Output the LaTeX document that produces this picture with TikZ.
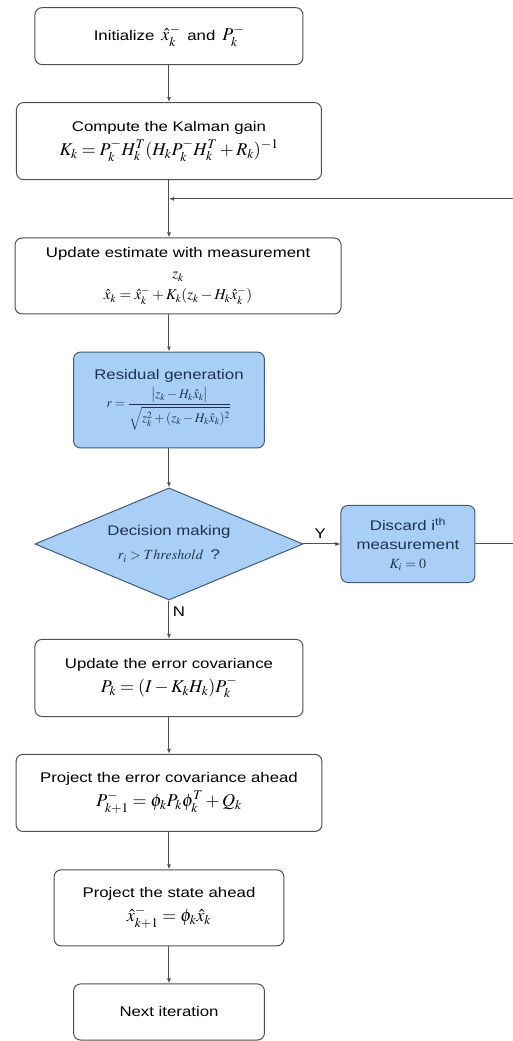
\documentclass[tikz,border=0pt]{standalone}
\usepackage{amsmath,amssymb}
\usepackage{mathptmx}
\usepackage{fontspec}
\setmainfont{Liberation Sans}[FakeStretch=1.2]
\usetikzlibrary{arrows.meta,positioning,shapes.geometric}
\definecolor{boxline}{HTML}{505050}
\definecolor{bluefill}{HTML}{A9CFF7}
\definecolor{blueline}{HTML}{3F5C7A}
\definecolor{bluetext}{HTML}{1E3250}
\newcommand{\bigeq}[1]{{\fontsize{18}{20}\selectfont$#1$}}

\begin{document}
\begin{tikzpicture}[
  font=\fontsize{14}{24}\selectfont,
  box/.style={draw=boxline, line width=1pt, rounded corners=7pt, align=center, inner sep=3pt},
  bluebox/.style={box, draw=blueline, fill=bluefill, text=bluetext},
  decision/.style={draw=blueline, fill=bluefill, text=bluetext, line width=1pt, diamond, aspect=2.4, align=center, inner sep=1pt},
  flow/.style={-{Latex[length=5pt,width=4pt]}, draw=boxline, line width=1pt}
]
\useasboundingbox (-5.94,0) rectangle (12.09,-36.59);

\node[box, minimum width=9.42cm, minimum height=2.00cm] (init) at (0,-1.27)
  {Initialize\enspace \bigeq{\hat{x}_k^-}\enspace and\enspace \bigeq{P_k^-}};
\node[box, minimum width=10.72cm, minimum height=2.71cm] (gain) at (0,-4.96)
  {Compute the Kalman gain\\
   \bigeq{K_k = P_k^-H_k^T(H_kP_k^-H_k^T + R_k)^{-1}}};
\node[box, minimum width=11.46cm, minimum height=2.67cm, font=\fontsize{14}{21}\selectfont] (update) at (0.32,-9.70)
  {Update estimate with measurement\\ {\fontsize{15}{17}\selectfont$z_k$}\\
   {\fontsize{15}{17}\selectfont$\hat{x}_k = \hat{x}_k^- + K_k(z_k - H_k\hat{x}_k^-)$}};
\node[bluebox, minimum width=6.71cm, minimum height=3.37cm] (residual) at (0,-14.06)
  {Residual generation\\[4pt]
   {\fontsize{13}{15}\selectfont
   $r = \dfrac{\bigl|z_k - H_k\hat{x}_k\bigr|}{\sqrt{z_k^2 + (z_k - H_k\hat{x}_k)^2}}$}};
\node[decision, minimum width=9.42cm, minimum height=3.94cm] (decide) at (0,-19.12)
  {Decision making\\ $r_i > \mathnormal{Threshold}$\enspace ?};
\node[bluebox, minimum width=4.71cm, minimum height=2.71cm, font=\fontsize{14}{19}\selectfont] (discard) at (8.40,-19.12)
  {Discard i\textsuperscript{th}\\ measurement\\ $K_i = 0$};
\node[box, minimum width=9.42cm, minimum height=2.71cm] (errcov) at (0,-23.83)
  {Update the error covariance\\
   \bigeq{P_k = (I - K_kH_k)P_k^-}};
\node[box, minimum width=10.75cm, minimum height=2.71cm] (projcov) at (0,-27.87)
  {Project the error covariance ahead\\
   \bigeq{P_{k+1}^- = \phi_kP_k\phi_k^T + Q_k}};
\node[box, minimum width=8.08cm, minimum height=2.67cm] (projstate) at (0,-31.91)
  {Project the state ahead\\
   \bigeq{\hat{x}_{k+1}^- = \phi_k\hat{x}_k}};
\node[box, minimum width=6.71cm, minimum height=1.97cm] (next) at (0,-35.57)
  {Next iteration};

% feedback joins the main line here
\coordinate (join) at (0,-6.99);

\draw[flow] (init) -- (gain);
\draw[flow] (gain) -- (gain |- update.north);
\draw[flow] (gain |- update.south) -- (residual);
\draw[flow] (residual) -- (decide);
\draw[flow] (decide) -- node[pos=.45,above=2pt]{Y} (discard);
\draw[flow] (discard.east) -- ++(3.62,0) |- (join);
\draw[flow] (decide) -- node[pos=.3,right]{N} (errcov);
\draw[flow] (errcov) -- (projcov);
\draw[flow] (projcov) -- (projstate);
\draw[flow] (projstate) -- (next);
\end{tikzpicture}
\end{document}
